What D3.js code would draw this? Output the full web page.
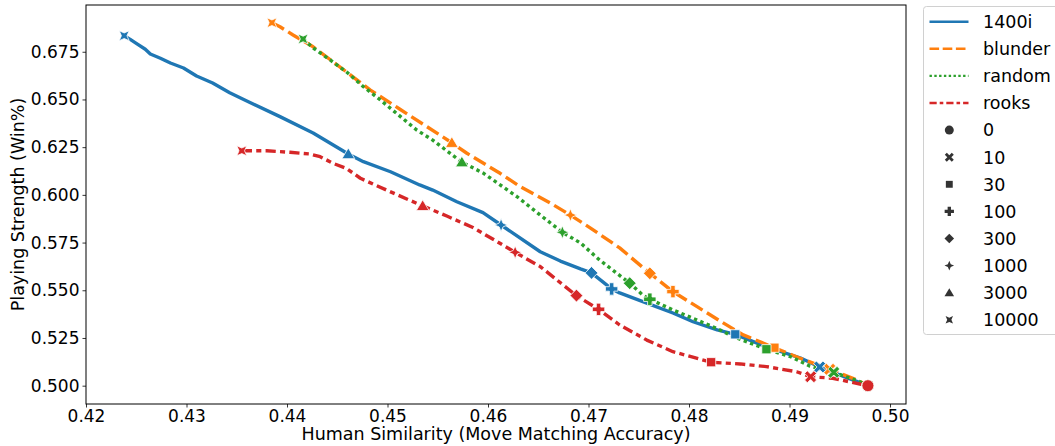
<!DOCTYPE html>
<html>
<head>
<meta charset="utf-8">
<script src="https://cdn.jsdelivr.net/npm/d3@7"></script>
<style>
body{margin:0;background:#fff;}
text{font-family:"DejaVu Sans",sans-serif;fill:#000;}
</style>
</head>
<body>
<svg></svg>
<script>
var seriesNames=["1400i","blunder","random","rooks"];
var budgets=["0","10","30","100","300","1000","3000","10000"];
var xTicks=[0.42,0.43,0.44,0.45,0.46,0.47,0.48,0.49,0.50];
var yTicks=[0.500,0.525,0.550,0.575,0.600,0.625,0.650,0.675];

// curve points: [move matching accuracy, win%]
var line1400i=[[0.4238,0.6834],[0.4244,0.6815],[0.4250,0.6794],[0.4259,0.6763],[0.4264,0.6738],[0.4274,0.6716],
  [0.4284,0.6691],[0.4297,0.6665],[0.4310,0.6623],[0.4326,0.6586],[0.4343,0.6535],[0.4360,0.6492],[0.4393,0.6410],
  [0.4426,0.6324],[0.4461,0.6214],[0.4476,0.6174],[0.4503,0.6121],[0.4532,0.6052],[0.4545,0.6025],[0.4569,0.5964],
  [0.4595,0.5907],[0.4613,0.5842],[0.4652,0.5702],[0.4672,0.5653],[0.4692,0.5612],[0.4703,0.5591],[0.4718,0.5528],
  [0.4723,0.5507],[0.4731,0.5486],[0.4758,0.5433],[0.4784,0.5381],[0.4804,0.5335],[0.4828,0.5292],[0.4846,0.5269],
  [0.4877,0.5204],[0.4911,0.5145],[0.4930,0.5098],[0.4955,0.5046],[0.4978,0.5000]];
var lineBlunder=[[0.4385,0.6902],[0.4393,0.6881],[0.4406,0.6838],[0.4426,0.6776],[0.4459,0.6645],[0.4483,0.6549],
  [0.4512,0.6450],[0.4564,0.6273],[0.4579,0.6218],[0.4612,0.6113],[0.4632,0.6043],[0.4662,0.5957],[0.4682,0.5894],
  [0.4702,0.5826],[0.4731,0.5722],[0.4761,0.5589],[0.4784,0.5493],[0.4808,0.5414],[0.4834,0.5329],[0.4854,0.5266],
  [0.4885,0.5199],[0.4910,0.5145],[0.4940,0.5086],[0.4967,0.5030],[0.4978,0.5000]];
var lineRandom=[[0.4416,0.6817],[0.4426,0.6770],[0.4443,0.6707],[0.4459,0.6645],[0.4476,0.6567],[0.4493,0.6497],
  [0.4529,0.6340],[0.4545,0.6287],[0.4574,0.6171],[0.4595,0.6115],[0.4629,0.5990],[0.4652,0.5894],[0.4674,0.5804],
  [0.4692,0.5748],[0.4711,0.5659],[0.4741,0.5537],[0.4754,0.5475],[0.4761,0.5453],[0.4784,0.5397],[0.4808,0.5344],
  [0.4831,0.5292],[0.4844,0.5257],[0.4877,0.5191],[0.4901,0.5152],[0.4920,0.5103],[0.4944,0.5070],[0.4970,0.5021],
  [0.4978,0.5000]];
var lineRooks=[[0.4355,0.6231],[0.4380,0.6231],[0.4403,0.6223],[0.4423,0.6214],[0.4433,0.6200],[0.4446,0.6165],
  [0.4459,0.6139],[0.4473,0.6087],[0.4499,0.6025],[0.4535,0.5942],[0.4559,0.5889],[0.4585,0.5829],[0.4609,0.5755],
  [0.4627,0.5699],[0.4652,0.5624],[0.4688,0.5472],[0.4710,0.5400],[0.4731,0.5318],[0.4758,0.5239],[0.4784,0.5178],
  [0.4822,0.5123],[0.4851,0.5114],[0.4877,0.5100],[0.4907,0.5073],[0.4921,0.5047],[0.4943,0.5039],[0.4978,0.5000]];

// budget markers, in the order of budgets
var marks1400i=[[0.4978,0.5000],[0.4930,0.5098],[0.4846,0.5269],[0.4723,0.5507],[0.4703,0.5591],[0.4613,0.5842],[0.4461,0.6214],[0.4238,0.6834]];
var marksBlunder=[[0.4978,0.5000],[0.4940,0.5086],[0.4885,0.5199],[0.4784,0.5493],[0.4761,0.5589],[0.4682,0.5894],[0.4564,0.6273],[0.4385,0.6902]];
var marksRandom=[[0.4978,0.5000],[0.4944,0.5070],[0.4877,0.5191],[0.4761,0.5453],[0.4741,0.5537],[0.4674,0.5804],[0.4574,0.6171],[0.4416,0.6817]];
var marksRooks=[[0.4978,0.5000],[0.4921,0.5047],[0.4822,0.5123],[0.4710,0.5400],[0.4688,0.5472],[0.4627,0.5699],[0.4535,0.5942],[0.4355,0.6231]];

var w=1055, h=446;
var margin={top:5,bottom:42,left:86,right:149};
var colors=["#1f77b4","#ff7f0e","#2ca02c","#d62728"];
var dashes=[[],[4,1.5],[1,1],[3,1.25,1.5,1.25]];
var lines=[line1400i,lineBlunder,lineRandom,lineRooks];
var marks=[marks1400i,marksBlunder,marksRandom,marksRooks];

var xScale=d3.scaleLinear()
             .domain([0.42,0.50159])
             .range([margin.left,w-margin.right]);
var yScale=d3.scaleLinear()
             .domain([0.4904,0.6995])
             .range([h-margin.bottom,margin.top]);

////////////////////////////////////////////// marker shapes
var poly=function(pts,s){
  return "M"+pts.map(function(p){return (p[0]*s).toFixed(2)+","+(p[1]*s).toFixed(2);}).join("L")+"Z";
}
var a=0.36, q=0.3, o4=0.75, r4=0.42;
var shapes={
  "10":[[-1,-.55],[-.55,-1],[0,-.45],[.55,-1],[1,-.55],[.45,0],[1,.55],[.55,1],[0,.45],[-.55,1],[-1,.55],[-.45,0]],
  "30":[[-1,-1],[1,-1],[1,1],[-1,1]],
  "100":[[-a,-1],[a,-1],[a,-a],[1,-a],[1,a],[a,a],[a,1],[-a,1],[-a,a],[-1,a],[-1,-a],[-a,-a]],
  "300":[[0,-1],[1,0],[0,1],[-1,0]],
  "1000":[[0,-1],[q,-q],[1,0],[q,q],[0,1],[-q,q],[-1,0],[-q,-q]],
  "3000":[[0,-1.05],[1.1,0.8],[-1.1,0.8]],
  "10000":[[-o4,-o4],[0,-r4],[o4,-o4],[r4,0],[o4,o4],[0,r4],[-o4,o4],[-r4,0]]
};
var sizes={"0":6,"10":6,"30":4.6,"100":6.2,"300":6.4,"1000":6.4,"3000":5.8,"10000":6.6};
var markerPath=function(k,f){
  var s=sizes[k]*f;
  if(k=="0") return d3.symbol(d3.symbolCircle,Math.PI*s*s)();
  return poly(shapes[k],s);
}

//////////////////////////////////////////////
var svg=d3.select("svg")
          .attr("width",w)
          .attr("height",h);

var line=d3.line()
           .x(function(d){return xScale(d[0]);})
           .y(function(d){return yScale(d[1]);});

var lw=3.4;
svg.append("g")
   .selectAll("path")
   .data(lines)
   .enter()
   .append("path")
   .attr("d",line)
   .attr("fill","none")
   .attr("stroke",function(d,i){return colors[i];})
   .attr("stroke-width",lw)
   .attr("stroke-linejoin","round")
   .attr("stroke-dasharray",function(d,i){
     return dashes[i].map(function(v){return v*lw;}).join(",");
   });

marks.forEach(function(m,si){
  svg.append("g")
     .selectAll("path")
     .data(m)
     .enter()
     .append("path")
     .attr("transform",function(d){return "translate("+xScale(d[0])+","+yScale(d[1])+")";})
     .attr("d",function(d,i){return markerPath(budgets[i],1);})
     .attr("fill",colors[si])
     .attr("stroke","#fff")
     .attr("stroke-width",0.8);
});

////////////////////////////////////////////// axes
var xAxis=d3.axisBottom(xScale)
            .tickValues(xTicks)
            .tickFormat(d3.format(".2f"))
            .tickSizeInner(3.5)
            .tickSizeOuter(0)
            .tickPadding(2.5);
var yAxis=d3.axisLeft(yScale)
            .tickValues(yTicks)
            .tickFormat(d3.format(".3f"))
            .tickSizeInner(3.5)
            .tickSizeOuter(0)
            .tickPadding(3);
var gx=svg.append("g")
   .attr("transform","translate(0,"+(h-margin.bottom)+")")
   .call(xAxis);
var gy=svg.append("g")
   .attr("transform","translate("+margin.left+",0)")
   .call(yAxis);
[gx,gy].forEach(function(g){
  g.select(".domain").remove();
  g.selectAll("text").style("font-size","17px").style("font-family","DejaVu Sans");
  g.selectAll("line").attr("stroke","#000").attr("stroke-width",0.8);
});

svg.append("rect")
   .attr("x",margin.left)
   .attr("y",margin.top)
   .attr("width",w-margin.right-margin.left)
   .attr("height",h-margin.bottom-margin.top)
   .attr("fill","none")
   .attr("stroke","#000")
   .attr("stroke-width",1);

svg.append("text")
   .attr("x",(margin.left+w-margin.right)/2)
   .attr("y",440)
   .attr("text-anchor","middle")
   .style("font-size","17.5px")
   .text("Human Similarity (Move Matching Accuracy)");
svg.append("text")
   .attr("transform","translate(24,"+((margin.top+h-margin.bottom)/2)+") rotate(-90)")
   .attr("text-anchor","middle")
   .style("font-size","17.5px")
   .text("Playing Strength (Win%)");

////////////////////////////////////////////// legend
var legend=svg.append("g");
legend.append("rect")
      .attr("x",923.5)
      .attr("y",6.5)
      .attr("width",140)
      .attr("height",328)
      .attr("rx",3)
      .attr("fill","#fff")
      .attr("stroke","#d0d0d0")
      .attr("stroke-width",1);
var rowY=function(i){return 21.7+i*27.1;};
var llw=2.4;
seriesNames.forEach(function(n,i){
  legend.append("line")
        .attr("x1",929.5).attr("x2",968.5)
        .attr("y1",rowY(i)).attr("y2",rowY(i))
        .attr("stroke",colors[i])
        .attr("stroke-width",llw)
        .attr("stroke-dasharray",dashes[i].map(function(v){return v*llw;}).join(","));
  legend.append("text")
        .attr("x",983)
        .attr("y",rowY(i))
        .attr("dy","0.36em")
        .style("font-size","17.5px")
        .text(n);
});
budgets.forEach(function(b,j){
  var y=rowY(j+4);
  legend.append("path")
        .attr("transform","translate(949.3,"+y+")")
        .attr("d",markerPath(b,0.75))
        .attr("fill","#333");
  legend.append("text")
        .attr("x",983)
        .attr("y",y)
        .attr("dy","0.36em")
        .style("font-size","17.5px")
        .text(b);
});
</script>
</body>
</html>
